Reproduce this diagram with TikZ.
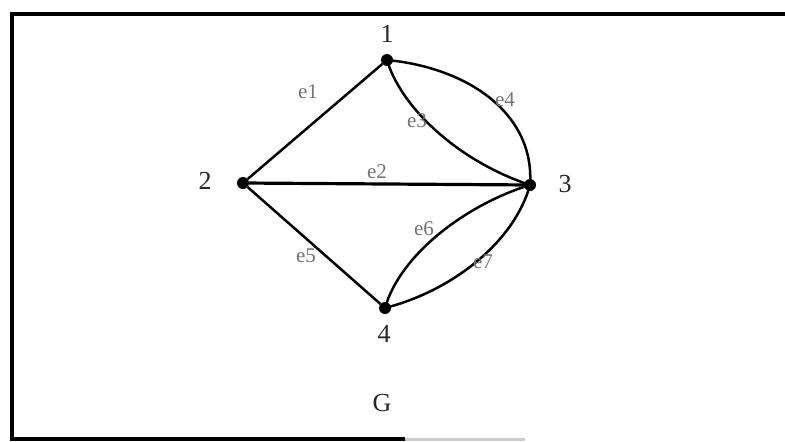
\documentclass[tikz,border=0pt]{standalone}
\usepackage{fontspec}
\setmainfont{Liberation Serif}
\begin{document}
\begin{tikzpicture}[x=1pt,y=-1pt,
  vtx/.style={circle,fill=black,inner sep=0pt,minimum size=12pt},
  edge/.style={line width=2.5pt,black},
  vlab/.style={font=\fontsize{26}{26}\selectfont,text=black!85},
  elab/.style={font=\fontsize{21}{21}\selectfont,text=black!55},
  frame/.style={line width=3.5pt,black}]
\useasboundingbox (0,0) rectangle (785,442);
% frame
\coordinate (tl) at (12,14);
\coordinate (tr) at (785,14);
\coordinate (bl) at (12,439);
\coordinate (bm) at (405,439);
\coordinate (br) at (525,439);
\draw[frame] (tr) -- (tl) -- (bl) -- (bm);
\draw[line width=3pt,black!20] (bm) -- (br);
% vertices
\node[vtx] (v1) at (387,60) {};
\node[vtx] (v2) at (243,183) {};
\node[vtx] (v3) at (530,185) {};
\node[vtx] (v4) at (385,308) {};
% vertex labels
\node[vlab] (l1) at (387,34) {1};
\node[vlab] (l2) at (205,181) {2};
\node[vlab] (l3) at (565,184) {3};
\node[vlab] (l4) at (384,334) {4};
% edges
\draw[edge] (v1) -- (v2);
\draw[edge,line width=3.2pt] (v2) -- (v3);
\draw[edge] (v2) -- (v4);
\draw[edge] (v1.center) .. controls (400,105) and (455,160) .. (v3.center);
\draw[edge] (v1.center) .. controls (470,68) and (535,115) .. (v3.center);
\draw[edge] (v4.center) .. controls (400,255) and (465,205) .. (v3.center);
\draw[edge] (v4.center) .. controls (455,290) and (515,240) .. (v3.center);
% edge labels
\node[elab] (e1) at (308,92) {e1};
\node[elab] (e2) at (377,172) {e2};
\node[elab] (e3) at (417,121) {e3};
\node[elab] (e4) at (505,100) {e4};
\node[elab] (e5) at (306,256) {e5};
\node[elab] (e6) at (424,229) {e6};
\node[elab] (e7) at (483,262) {e7};
% graph name
\node[vlab] (g) at (382,403) {G};
\end{tikzpicture}
\end{document}
